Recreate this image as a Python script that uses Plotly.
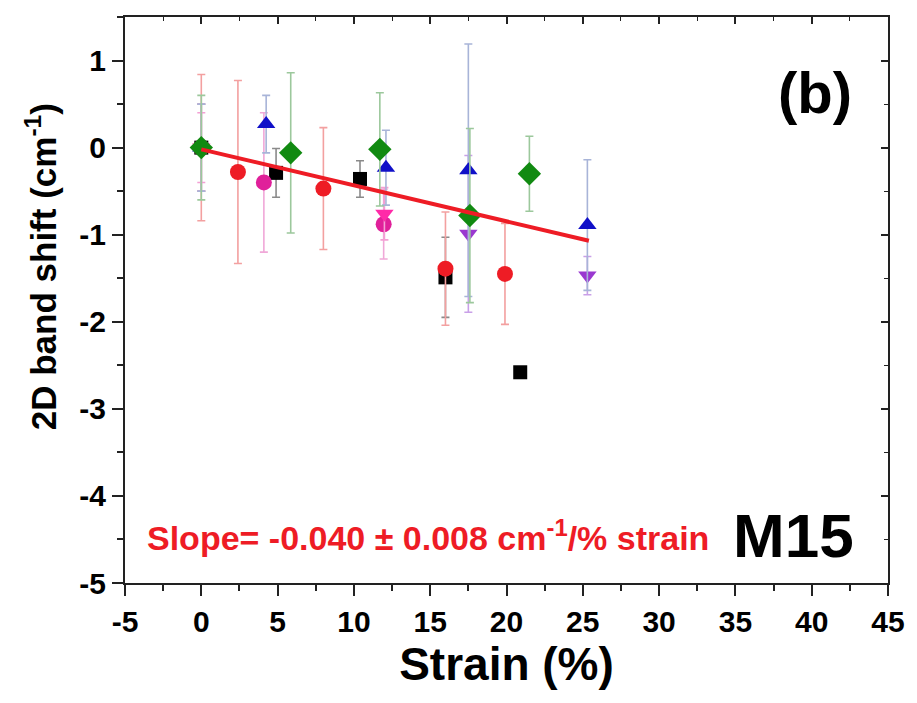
import plotly.graph_objects as go

# ---- data ----
black_x = [0, 4.9, 10.4, 16.0, 20.9]
black_y = [0, -0.29, -0.36, -1.49, -2.58]
black_e = [0.5, 0.28, 0.21, 0.46, 0]

red_x = [0, 2.4, 8.0, 16.0, 19.9]
red_y = [0, -0.28, -0.47, -1.39, -1.45]
red_e = [0.84, 1.05, 0.70, 0.65, 0.58]

blue_x = [0, 4.25, 12.1, 17.5, 25.3]
blue_y = [0, 0.27, -0.23, -0.26, -0.89]
blue_e = [0.5, 0.33, 0.43, 1.45, 0.75]

pink_x = [0, 4.1, 11.95]
pink_y = [0, -0.40, -0.88]
pink_e = [0.5, 0.8, 0.4]

magenta_x = [0, 12.0]
magenta_y = [0, -0.76]
magenta_e = [0.4, 0.3]

violet_x = [17.5, 25.3]
violet_y = [-0.99, -1.47]
violet_e = [0.9, 0.22]

green_x = [0, 5.86, 11.7, 17.6, 21.5]
green_y = [0, -0.06, -0.02, -0.78, -0.30]
green_e = [0.6, 0.92, 0.65, 1.0, 0.43]

fit_x = [0, 25.4]
fit_y = [-0.02, -1.07]

x_ticks = [-5, 0, 5, 10, 15, 20, 25, 30, 35, 40, 45]
y_ticks = [-5, -4, -3, -2, -1, 0, 1]

series = [
    (black_x, black_y, black_e, "square", "#000000", "#8a8a8a", 14),
    (red_x, red_y, red_e, "circle", "#ee1c25", "#f3a0a0", 16),
    (pink_x, pink_y, pink_e, "circle", "#e0209a", "#f0a8d8", 16),
    (magenta_x, magenta_y, magenta_e, "triangle-down", "#ff2aa8", "#f4a0d4", 16),
    (violet_x, violet_y, violet_e, "triangle-down", "#9a38d0", "#c9a0e8", 16),
    (blue_x, blue_y, blue_e, "triangle-up", "#1010c8", "#a8b4d8", 16),
    (green_x, green_y, green_e, "diamond", "#118a11", "#9cc89c", 18),
]

fig = go.Figure()
for xs, ys, es, sym, col, ecol, sz in series:
    fig.add_trace(go.Scatter(
        x=xs, y=ys, mode="markers",
        marker=dict(symbol=sym, size=sz, color=col, line=dict(width=0)),
        error_y=dict(type="data", array=es, visible=True, color=ecol,
                     thickness=1.6, width=4),
        showlegend=False,
    ))

fig.add_trace(go.Scatter(x=fit_x, y=fit_y, mode="lines",
                         line=dict(color="#ee1c25", width=4), showlegend=False))

# invisible trace for mirrored (inside-tick) axes
fig.add_trace(go.Scatter(x=[-5], y=[-5], xaxis="x2", yaxis="y2", mode="markers",
                         marker=dict(opacity=0), showlegend=False, hoverinfo="skip"))

FONT = "Liberation Sans, Arial"
tickfont = dict(family=FONT, size=30, color="black", weight="bold")

fig.update_layout(
    width=917, height=703,
    margin=dict(l=125, r=22, t=17, b=120),
    plot_bgcolor="white", paper_bgcolor="white",
    xaxis=dict(range=[-5, 45], tickvals=x_ticks, ticktext=[str(v) for v in x_ticks],
               showgrid=False, zeroline=False, showline=True, linecolor="#222",
               linewidth=2, ticks="outside", ticklen=11, tickwidth=2, tickcolor="#222",
               minor=dict(dtick=2.5, ticks="outside", ticklen=6, tickwidth=1.5, tickcolor="#222"),
               tickfont=tickfont,
               title=dict(text="Strain (%)", standoff=6,
                          font=dict(family=FONT, size=46, color="black", weight="bold"))),
    yaxis=dict(range=[-5, 1.5], tickvals=y_ticks, ticktext=[str(v) for v in y_ticks],
               showgrid=False, zeroline=False, showline=True, linecolor="#222",
               linewidth=2, ticks="outside", ticklen=11, tickwidth=2, tickcolor="#222",
               minor=dict(dtick=0.5, ticks="outside", ticklen=6, tickwidth=1.5, tickcolor="#222"),
               tickfont=tickfont),
    xaxis2=dict(range=[-5, 45], overlaying="x", side="top", showticklabels=False,
                showgrid=False, zeroline=False, showline=True, linecolor="#222", linewidth=2,
                ticks="inside", ticklen=7, tickwidth=1.5, tickcolor="#222", dtick=5,
                minor=dict(dtick=2.5, ticks="inside", ticklen=4, tickwidth=1.2, tickcolor="#222")),
    yaxis2=dict(range=[-5, 1.5], overlaying="y", side="right", anchor="x2", showticklabels=False,
                showgrid=False, zeroline=False, showline=True, linecolor="#222", linewidth=2,
                ticks="inside", ticklen=7, tickwidth=1.5, tickcolor="#222", dtick=1, tick0=0,
                minor=dict(dtick=0.5, ticks="inside", ticklen=4, tickwidth=1.2, tickcolor="#222")),
    annotations=[
        dict(x=-0.110, y=0.558, xref="paper", yref="paper", textangle=-90,
             xanchor="center", yanchor="middle",
             text="2D band shift (cm<sup>-1</sup>)", showarrow=False,
             font=dict(family=FONT, size=35, color="black", weight="bold")),
        dict(x=40.2, y=0.63, xref="x", yref="y", text="(b)", showarrow=False,
             font=dict(family=FONT, size=58, color="black", weight="bold")),
        dict(x=-3.7, y=-4.45, xref="x", yref="y", xanchor="left", showarrow=False,
             text="Slope= -0.040 ± 0.008 cm<sup>-1</sup>/% strain",
             font=dict(family=FONT, size=34, color="#ee1c25", weight="bold")),
        dict(x=38.8, y=-4.45, xref="x", yref="y", text="M15", showarrow=False,
             font=dict(family=FONT, size=62, color="black", weight="bold")),
    ],
)

fig.write_html("out.html")
